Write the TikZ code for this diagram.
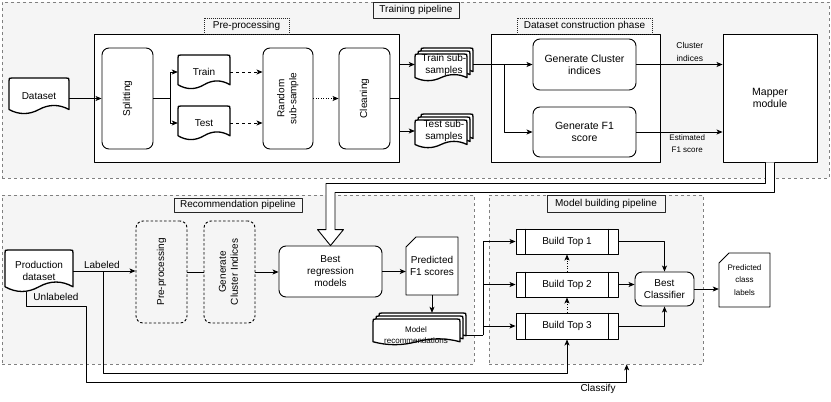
\documentclass[tikz,border=0pt]{standalone}
\usepackage{fontspec}
\setmainfont{Liberation Sans}
\usepackage{graphicx}
\usetikzlibrary{arrows.meta,calc}
\definecolor{bggray}{HTML}{F5F5F5}
\definecolor{dashgray}{HTML}{808080}
\newcommand\mydoc[5]{%
 \pgfmathsetmacro\dW{(#4)-(#2)}%
 \pgfmathsetmacro\dD{0.25*((#5)-(#3))}%
 \draw[#1] (#2,#3+3) .. controls (#2,#3) .. (#2+3,#3) -- (#4-3,#3) .. controls (#4,#3) .. (#4,#3+3)
  -- (#4,#5-0.5*\dD) .. controls (#4-\dW/6,#5-1.1*\dD) and (#4-\dW/3,#5-1.1*\dD) .. (#2+0.5*\dW,#5-0.5*\dD)
  .. controls (#2+\dW/3,#5+0.1*\dD) and (#2+\dW/6,#5+0.1*\dD) .. (#2,#5-0.5*\dD) -- cycle;}
\newcommand\mymulti[4]{%
 \mydoc{docl}{#1+6}{#2}{#3}{#4-6}%
 \mydoc{docl}{#1+3}{#2+3}{#3-3}{#4-3}%
 \mydoc{docl}{#1}{#2+6}{#3-6}{#4}}
\newcommand\mycard[4]{\draw[cardl] (#1+10,#2) -- (#3,#2) -- (#3,#4) -- (#1,#4) -- (#1,#2+10) -- cycle;}
\newcommand\procl[1]{\draw[thinl] ($(#1.north west)+(10,0)$) -- ($(#1.south west)+(10,0)$);
 \draw[thinl] ($(#1.north east)+(-10,0)$) -- ($(#1.south east)+(-10,0)$);}
\begin{document}
\begin{tikzpicture}[x=1pt,y=-1pt,line join=round,
  every node/.style={font=\fontsize{10}{12}\selectfont},
  bx/.style n args={4}{at={({(#1+#3)/2},{(#2+#4)/2})}, minimum width={(#3)-(#1)}, minimum height={(#4)-(#2)}, inner sep=0pt},
  small/.style={font=\fontsize{8}{12.5}\selectfont},
  pipe/.style={draw=dashgray, dash pattern=on 3pt off 3pt, fill=bggray, line width=0.7pt},
  plab/.style={draw=black!85, fill=bggray, line width=0.7pt},
  dlab/.style={draw=black!85, dash pattern=on 1pt off 1pt, fill=bggray, line width=0.7pt},
  outer/.style={draw, fill=white, line width=0.9pt},
  rbox/.style={draw, fill=white, rounded corners=7pt, line width=0.9pt, align=center},
  dbox/.style={draw, fill=bggray, rounded corners=7pt, line width=0.9pt, dash pattern=on 2.5pt off 2pt},
  textn/.style={draw=none, align=center},
  docl/.style={draw, fill=white, line width=1.3pt},
  cardl/.style={draw, fill=white, line width=0.9pt},
  thinl/.style={draw, line width=0.9pt},
  procn/.style={draw, fill=white, line width=0.9pt},
  arr/.style={draw, line width=0.9pt, -{Stealth[length=6pt,width=5pt,inset=1.5pt]}},
  dashedarr/.style={arr, dash pattern=on 3pt off 3pt},
  dotarr/.style={arr, dash pattern=on 1pt off 1.5pt}]
\useasboundingbox (0,0) rectangle (831,402);
% ---------- pipeline frames ----------
\node[pipe, bx={2}{2}{829}{178}] (tp) {};
\node[plab, bx={373}{2}{459}{18}] (tplab) {Training pipeline};
\node[pipe, bx={2}{195}{474}{364}] (rp) {};
\node[plab, bx={174}{198}{302}{212}] (rplab) {Recommendation pipeline};
\node[pipe, bx={489}{195}{703}{364}] (mbp) {};
\node[plab, bx={547}{195}{665}{212}] (mbplab) {Model building pipeline};
% ---------- training pipeline ----------
\node[outer, bx={94}{34}{399}{162}] (pre) {};
\node[dlab, bx={204}{18}{289}{34}] (prelab) {Pre-processing};
\mydoc{docl}{9}{78}{69}{114}
\node[textn, bx={9}{78}{69}{114}] (dataset) {Dataset};
\node[rbox, bx={102}{48}{153}{149}] (split) {\rotatebox{90}{Splitting}};
\mydoc{docl}{178}{55}{230}{89}
\node[textn, bx={178}{55}{230}{89}] (train) {Train};
\mydoc{docl}{178}{106}{230}{140}
\node[textn, bx={178}{106}{230}{140}] (test) {Test};
\node[rbox, bx={263}{48}{313}{149}] (rand) {\rotatebox{90}{\begin{tabular}{@{}c@{}}Random\\sub-sample\end{tabular}}};
\node[rbox, bx={339}{48}{390}{149}] (clean) {\rotatebox{90}{Cleaning}};
\mymulti{415}{48}{473}{81}
\node[textn, bx={415}{48}{473}{81}] (trainsub) {Train sub-\\samples};
\mymulti{415}{114}{473}{148}
\node[textn, bx={415}{114}{473}{148}] (testsub) {Test sub-\\samples};
\node[outer, bx={491}{34}{660}{162}] (dcp) {};
\node[dlab, bx={517}{18}{652}{34}] (dcplab) {Dataset construction phase};
\node[rbox, bx={533}{39}{636}{90}, font=\fontsize{10.5}{12.5}\selectfont] (gc) {Generate Cluster\\indices};
\node[rbox, bx={533}{107}{636}{157}, font=\fontsize{10.5}{12.5}\selectfont] (gf1) {Generate F1\\score};
\node[outer, bx={723}{34}{817}{162}, align=center, font=\fontsize{10.5}{12.5}\selectfont] (mapper) {Mapper\\module};
% connectors (training)
\draw[arr] (dataset.east |- split.west) -- (split.west);
\draw[arr] (split.east) -- ++(17,0) |- (train.west);
\draw[arr] (split.east) -- ++(17,0) |- (test.west);
\draw[dashedarr] (train.east) -- (train.east -| rand.west);
\draw[dashedarr] (test.east) -- (test.east -| rand.west);
\draw[dotarr] (rand.east) -- (clean.west);
\draw[thinl] (clean.east) -- (clean.east -| pre.east);
\draw[arr] (clean.east -| pre.east) |- (trainsub.west);
\draw[arr] (clean.east -| pre.east) |- (testsub.west);
\draw[arr] (trainsub.east) -- (trainsub.east -| gc.west);
\draw[arr] ($(trainsub.east)!0.53!(trainsub.east -| gc.west)$) |- (gf1.west);
\draw[arr] (gc.east) -- node[above, pos=0.62, align=center, inner sep=2pt, font=\fontsize{8.5}{13}\selectfont] (lci) {Cluster\\indices} (gc.east -| mapper.west);
\draw[arr] (gf1.east) -- node[small, below, pos=0.59, align=center, inner sep=2pt] (lef) {Estimated\\F1 score} (gf1.east -| mapper.west);
% ---------- recommendation pipeline ----------
\mydoc{docl}{5}{250}{73}{292}
\node[textn, bx={5}{250}{73}{292}] (prod) {Production\\dataset};
\node[dbox, bx={136}{221}{187}{323}] (prep2) {\rotatebox{90}{Pre-processing}};
\node[dbox, bx={204}{221}{255}{323}] (gci) {\rotatebox{90}{\begin{tabular}{@{}c@{}}Generate\\Cluster Indices\end{tabular}}};
\node[rbox, bx={279}{246}{382}{297}] (best) {Best\\regression\\models};
\mycard{406}{237}{458}{295}
\node[textn, bx={406}{237}{458}{295}] (pf1) {Predicted\\F1 scores};
\mymulti{373}{313}{466}{345}
\node[textn, bx={373}{313}{466}{345}] (modrec) {};
\node[textn, font=\fontsize{8}{11}\selectfont] (modrectxt) at (416,335) {Model\\recommendations};
% ---------- model building pipeline ----------
\node[procn, bx={516}{229}{618}{254}] (bt1) {Build Top 1};
\node[procn, bx={516}{272}{618}{297}] (bt2) {Build Top 2};
\node[procn, bx={516}{313}{618}{339}] (bt3) {Build Top 3};
\procl{bt1}\procl{bt2}\procl{bt3}
\node[rbox, bx={635}{272}{694}{306}] (bestc) {Best\\Classifier};
\mycard{719}{253}{770}{307}
\node[textn, small, bx={719}{253}{770}{307}] (pcl) {Predicted\\class\\labels};
% connectors (recommendation)
\draw[arr] (prod.east) -- node[above, pos=0.46, inner sep=2pt] (labl) {Labeled} (prod.east -| prep2.west);
\coordinate (lbr) at ($(prod.east)!0.48!(prod.east -| prep2.west)$);
\draw[arr] (lbr) |- ($(bt3.south)+(0,34)$) -- (bt3.south);
\coordinate (ustart) at ($(prod.south west)+(22,0)$);
\coordinate (clsend) at ($(mbp.south west)+(138,0)$);
\draw[arr] (ustart) |- (86,306) -- (86,382) -| (clsend);
\node (unl) at (56,297) {Unlabeled};
\node (clsl) at (598,389) {Classify};
\draw[thinl] (prep2.east) -- (prep2.east -| gci.west);
\draw[arr] (gci.east) -- (gci.east -| best.west);
\draw[arr] (best.east) -- (best.east -| pf1.west);
\draw[arr] (pf1.south) -- (pf1.south |- modrec.north);
\draw[thinl] ([yshift=-6pt]modrec.east) -- ++(17,0) coordinate (mrj);
\draw[arr] (mrj) |- (bt1.west);
\draw[arr] (mrj) |- (bt2.west);
\draw[arr] (mrj) |- (bt3.west);
\draw[dotarr] (bt3.north) -- (bt2.south);
\draw[dotarr] (bt2.north) -- (bt1.south);
\draw[arr] (bt1.east) -| (bestc.north);
\draw[arr] (bt2.east) -- (bt2.east -| bestc.west);
\draw[arr] (bt3.east) -| (bestc.south);
\draw[arr] (bestc.east) -- (bestc.east -| pcl.west);
% ---------- hollow block arrow mapper -> best regression ----------
\draw[thinl, fill=white] let \p1=(mapper.south), \p2=(best.north) in
 (\x1-4.5pt,\y1) -- (\x1-4.5pt,\y1-21pt) -- (\x2-4.5pt,\y1-21pt) -- (\x2-4.5pt,\y2+16pt)
 -- (\x2-13pt,\y2+16pt) -- (\x2,\y2) -- (\x2+13pt,\y2+16pt) -- (\x2+4.5pt,\y2+16pt)
 -- (\x2+4.5pt,\y1-30pt) -- (\x1+4.5pt,\y1-30pt) -- (\x1+4.5pt,\y1);
\end{tikzpicture}
\end{document}
